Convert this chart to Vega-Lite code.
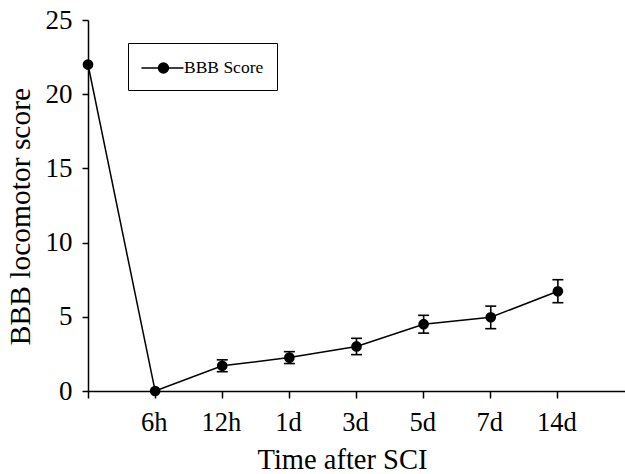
{
  "$schema": "https://vega.github.io/schema/vega-lite/v6.json",
  "width": 537,
  "height": 371,
  "autosize": {"type": "none"},
  "padding": {"left": 88, "top": 20, "right": 0, "bottom": 83},
  "background": "white",
  "config": {
    "view": {"stroke": null},
    "font": "Liberation Serif",
    "axis": {"domainColor": "black", "tickColor": "black", "labelColor": "black", "titleColor": "black", "domainWidth": 1.5, "tickWidth": 1.5, "grid": false, "labelFont": "Liberation Serif", "titleFont": "Liberation Serif", "titleFontWeight": "normal"}
  },
  "data": {
    "values": [
      {"time": "0h", "score": 22.0, "series": "BBB Score"},
      {"time": "6h", "score": 0.0, "series": "BBB Score"},
      {"time": "12h", "score": 1.7, "lo": 1.3, "hi": 2.1, "series": "BBB Score"},
      {"time": "1d", "score": 2.25, "lo": 1.85, "hi": 2.65, "series": "BBB Score"},
      {"time": "3d", "score": 3.0, "lo": 2.45, "hi": 3.55, "series": "BBB Score"},
      {"time": "5d", "score": 4.5, "lo": 3.9, "hi": 5.1, "series": "BBB Score"},
      {"time": "7d", "score": 4.97, "lo": 4.2, "hi": 5.72, "series": "BBB Score"},
      {"time": "14d", "score": 6.72, "lo": 5.95, "hi": 7.5, "series": "BBB Score"}
    ]
  },
  "encoding": {
    "x": {
      "field": "time", "type": "ordinal", "bandPosition": 0,
      "scale": {"type": "band", "domain": ["0h", "6h", "12h", "1d", "3d", "5d", "7d", "14d"], "paddingInner": 0, "paddingOuter": 0},
      "axis": {
        "title": "Time after SCI", "titleFontSize": 28.5, "titleX": 254, "titleY": 77, "titleBaseline": "alphabetic", "titleAlign": "center",
        "labelExpr": "datum.value == '0h' ? '' : datum.label", "labelAngle": 0, "labelFontSize": 26.5, "labelBaseline": "alphabetic", "labelPadding": 32, "labelOffset": -34.5, "tickSize": 7, "bandPosition": 0
      }
    }
  },
  "layer": [
    {
      "transform": [{"filter": "isValid(datum.lo)"}],
      "mark": {"type": "rule", "color": "black", "strokeWidth": 1.6},
      "encoding": {"y": {"field": "lo", "type": "quantitative"}, "y2": {"field": "hi"}}
    },
    {
      "transform": [{"filter": "isValid(datum.lo)"}],
      "mark": {"type": "point", "shape": "M-1,0H1", "size": 121, "filled": false, "stroke": "black", "strokeWidth": 1.6, "opacity": 1},
      "encoding": {"y": {"field": "lo", "type": "quantitative"}}
    },
    {
      "transform": [{"filter": "isValid(datum.lo)"}],
      "mark": {"type": "point", "shape": "M-1,0H1", "size": 121, "filled": false, "stroke": "black", "strokeWidth": 1.6, "opacity": 1},
      "encoding": {"y": {"field": "hi", "type": "quantitative"}}
    },
    {
      "mark": {"type": "line", "strokeWidth": 1.5},
      "encoding": {
        "y": {"field": "score", "type": "quantitative"},
        "color": {
          "field": "series", "type": "nominal",
          "scale": {"range": ["black"]},
          "legend": {
            "title": null, "orient": "none", "legendX": 40, "legendY": 23,
            "strokeColor": "black", "padding": 13,
            "symbolType": "M-1.05,0H2.77M1.4,0A0.45,0.45,0,1,1,0.5,0A0.45,0.45,0,1,1,1.4,0Z",
            "symbolSize": 484, "symbolStrokeWidth": 1.5, "symbolFillColor": "black", "symbolStrokeColor": "black",
            "labelFont": "Liberation Serif", "labelFontSize": 17.5, "labelColor": "black", "labelOffset": 19,
            "encode": {"symbols": {"update": {"fill": {"value": "black"}, "stroke": {"value": "black"}}}}
          }
        }
      }
    },
    {
      "mark": {"type": "point", "filled": true, "color": "black", "size": 115, "opacity": 1},
      "encoding": {
        "y": {
          "field": "score", "type": "quantitative",
          "scale": {"domain": [0, 25], "nice": false, "zero": true},
          "axis": {
            "title": "BBB locomotor score", "titleFontSize": 29.5, "titleX": -68, "titleY": 196, "titleAngle": -90, "titleBaseline": "middle", "titleAlign": "center",
            "values": [0, 5, 10, 15, 20, 25], "labelFontSize": 27, "labelPadding": 10, "tickSize": 6
          }
        }
      }
    }
  ]
}
